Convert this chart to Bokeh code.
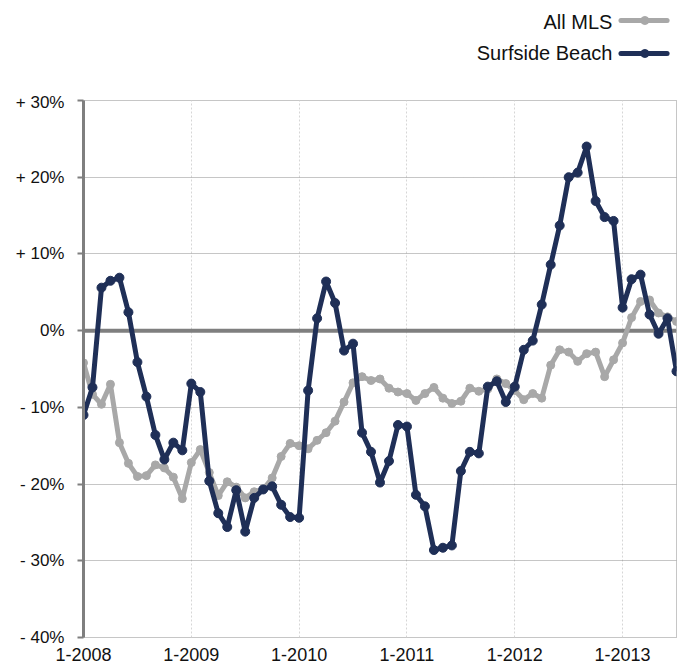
from bokeh.plotting import figure
from bokeh.models import Range1d, FixedTicker, Span
from bokeh.layouts import column
from bokeh.embed import file_html
from bokeh.resources import INLINE
from bokeh.core.properties import value

# ---- data (percent change, monthly 1-2008 .. 7-2013) ----
year_labels = ["1-2008", "1-2009", "1-2010", "1-2011", "1-2012", "1-2013"]

surfside = [
    -11.0, -7.4, 5.6, 6.5, 6.9, 2.4, -4.1, -8.6, -13.6, -16.8, -14.6, -15.6,
    -6.9, -8.0, -19.6, -23.8, -25.6, -20.8, -26.2, -21.8, -20.7, -20.3, -22.7, -24.3,
    -24.4, -7.8, 1.6, 6.4, 3.6, -2.6, -1.7, -13.3, -15.8, -19.8, -17.0, -12.3,
    -12.5, -21.4, -22.9, -28.6, -28.3, -28.0, -18.3, -15.8, -16.0, -7.3, -6.6, -9.3,
    -7.3, -2.5, -1.3, 3.4, 8.6, 13.7, 20.0, 20.6, 24.0, 16.9, 14.8, 14.3,
    3.0, 6.7, 7.3, 2.1, -0.4, 1.6, -5.3,
]

all_mls = [
    -4.2, -8.3, -9.6, -7.0, -14.6, -17.3, -19.0, -18.9, -17.5, -17.9, -19.1, -21.9,
    -17.2, -15.5, -18.5, -21.5, -19.7, -20.4, -21.8, -21.0, -20.7, -19.2, -16.4, -14.7,
    -15.0, -15.4, -14.3, -13.3, -11.8, -9.3, -6.8, -6.0, -6.5, -6.3, -7.5, -8.0,
    -8.2, -9.1, -8.2, -7.4, -8.8, -9.5, -9.2, -7.5, -7.9, -7.6, -6.3, -6.9,
    -7.8, -9.0, -8.2, -8.8, -4.5, -2.5, -2.8, -4.0, -3.0, -2.8, -6.0, -3.8,
    -1.6, 1.7, 3.8, 4.0, 2.3, 1.8, 1.2,
]

y_ticks = [-40, -30, -20, -10, 0, 10, 20, 30]
y_tick_labels = ["- 40%", "- 30%", "- 20%", "- 10%", "0%", "+ 10%", "+ 20%", "+ 30%"]

series_names = ["All MLS", "Surfside Beach"]

# ---- styling ----
FONT = "Liberation Sans"
DARK = "#1f2f57"
GREY = "#a8a8a8"
AXIS = "#7f7f7f"
TEXT = "#111111"

months = list(range(len(surfside)))
year_ticks = [12 * i for i in range(len(year_labels))]

W = 694

# ---- legend strip (text, then line sample on the right) ----
leg = figure(width=W, height=92, x_range=Range1d(0, W), y_range=Range1d(0, 92),
             output_backend="svg", toolbar_location=None, min_border=0,
             x_axis_type=None, y_axis_type=None)
leg.outline_line_color = None
leg.grid.visible = False
leg_colors = [GREY, DARK]
leg_line_y = [72, 39]
leg_text_y = [70.5, 40]
leg.text(x=[619, 619], y=leg_text_y, text=series_names, text_align="right",
         text_baseline="middle", text_font=value(FONT), text_font_size="20px",
         text_color=TEXT)
for c, yy in zip(leg_colors, leg_line_y):
    leg.line([629, 683], [yy, yy], line_width=5, color=c, line_cap="round")
    leg.scatter([657], [yy], size=8, color=c)

# ---- main chart ----
p = figure(width=W, height=576,
           x_range=Range1d(months[0], months[-1]), y_range=Range1d(-40, 30),
           output_backend="svg", toolbar_location=None,
           min_border_left=83, min_border_right=18, min_border_top=8, min_border_bottom=31)
p.background_fill_color = "white"
p.border_fill_color = "white"
p.outline_line_color = "#8c8c8c"
p.outline_line_dash = "1 1"
p.outline_line_width = 1

# x axis
p.xaxis.ticker = FixedTicker(ticks=year_ticks)
p.xaxis.major_label_overrides = dict(zip(year_ticks, year_labels))
p.xaxis.axis_line_color = None
p.xaxis.major_tick_line_color = None
p.xaxis.minor_tick_line_color = None
p.xaxis.major_tick_out = 0
p.xaxis.major_label_standoff = 10
p.xaxis.major_label_text_font = FONT
p.xaxis.major_label_text_font_size = "18px"
p.xaxis.major_label_text_color = TEXT

# y axis
p.yaxis.ticker = FixedTicker(ticks=y_ticks)
p.yaxis.major_label_overrides = dict(zip(y_ticks, y_tick_labels))
p.yaxis.axis_line_color = AXIS
p.yaxis.axis_line_width = 3
p.yaxis.major_tick_out = 6
p.yaxis.major_tick_in = 0
p.yaxis.major_tick_line_color = AXIS
p.yaxis.major_tick_line_width = 2
p.yaxis.minor_tick_line_color = None
p.yaxis.major_label_standoff = 13
p.yaxis.major_label_text_font = FONT
p.yaxis.major_label_text_font_size = "17px"
p.yaxis.major_label_text_color = TEXT

# grids
p.xgrid.ticker = FixedTicker(ticks=year_ticks)
p.xgrid.grid_line_color = "#d6d6d6"
p.xgrid.grid_line_dash = "2 2"
p.xgrid.grid_line_width = 1
p.ygrid.ticker = FixedTicker(ticks=y_ticks)
p.ygrid.grid_line_color = "#8c8c8c"
p.ygrid.grid_line_dash = "1 1"
p.ygrid.grid_line_width = 1

zero = Span(location=0, dimension="width", line_color=AXIS, line_width=4, level="underlay")
p.add_layout(zero)

# series
p.line(months, all_mls, color=GREY, line_width=5, line_join="round")
p.scatter(months, all_mls, size=8, color=GREY)
p.line(months, surfside, color=DARK, line_width=5, line_join="round")
p.scatter(months, surfside, size=9, color=DARK)

layout = column(leg, p, spacing=0)
open("out.html", "w").write(file_html(layout, INLINE))
